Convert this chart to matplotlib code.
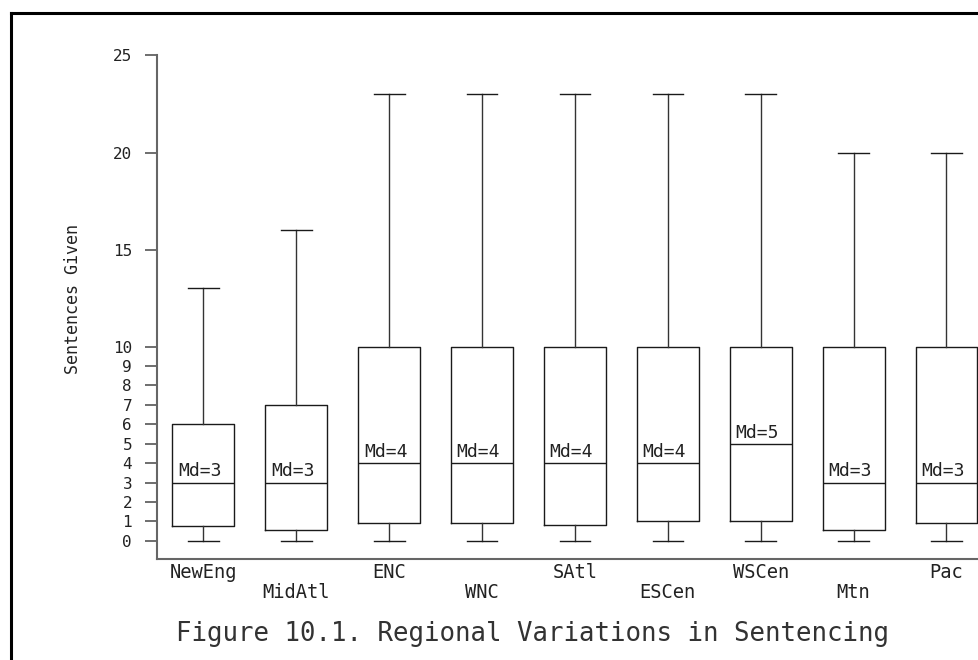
import matplotlib
matplotlib.use("Agg")
import matplotlib.pyplot as plt
from matplotlib.lines import Line2D

regions = ['NewEng', 'MidAtl', 'ENC', 'WNC', 'SAtl', 'ESCen', 'WSCen', 'Mtn', 'Pac']
whisker_low = [0, 0, 0, 0, 0, 0, 0, 0, 0]
q1 = [0.75, 0.55, 0.9, 0.9, 0.8, 1.0, 1.0, 0.55, 0.9]
medians = [3, 3, 4, 4, 4, 4, 5, 3, 3]
q3 = [6, 7, 10, 10, 10, 10, 10, 10, 10]
whisker_high = [13, 16, 23, 23, 23, 23, 23, 20, 20]
y_ticks = [0, 1, 2, 3, 4, 5, 6, 7, 8, 9, 10, 15, 20, 25]

FONT = 'DejaVu Sans Mono'
W, H = 979, 660
fig = plt.figure(figsize=(W / 100, H / 100), dpi=100)
fig.patch.set_facecolor('white')

# axes: left at x=157, right at figure edge, bottom at y=559, top at y=55.5
left, right, top, bottom = 157, 979, 55.5, 559
ax = fig.add_axes([left / W, 1 - bottom / H, (right - left) / W, (bottom - top) / H])

stats = []
for i, r in enumerate(regions):
    stats.append(dict(label=r, whislo=whisker_low[i], q1=q1[i], med=medians[i],
                      q3=q3[i], whishi=whisker_high[i], fliers=[]))
positions = list(range(1, len(regions) + 1))
ax.bxp(stats, positions=positions, widths=0.667, showfliers=False,
       boxprops=dict(color='#1a1a1a', linewidth=1.0),
       medianprops=dict(color='#1a1a1a', linewidth=1.0),
       whiskerprops=dict(color='#333333', linewidth=1.0),
       capprops=dict(color='#1a1a1a', linewidth=1.0),
       capwidths=0.33)

for i, p in enumerate(positions):
    ax.annotate(f'Md={medians[i]}', xy=(p - 0.333 + 0.06, medians[i]),
                xytext=(0, 1.5), textcoords='offset points',
                ha='left', va='bottom', fontsize=13, family=FONT, color='#222222')

ax.set_xlim(0.5, 9.35)
ax.set_ylim(-0.94, 25)
ax.set_yticks(y_ticks)
ax.set_yticklabels([str(t) for t in y_ticks], family=FONT, fontsize=11.5, color='#222222')
ax.set_xticks(positions)
ax.set_xticklabels([])
ax.tick_params(axis='x', length=0)
ax.tick_params(axis='y', length=9, width=1.2, color='#555555', pad=9)

for i, p in enumerate(positions):
    yoff = -4 if i % 2 == 0 else -24
    ax.annotate(regions[i], xy=(p, -0.94), xycoords='data', xytext=(0, yoff),
                textcoords='offset pixels', ha='center', va='top',
                fontsize=13.5, family=FONT, color='#222222', annotation_clip=False)

for s in ['top', 'right']:
    ax.spines[s].set_visible(False)
for s in ['left', 'bottom']:
    ax.spines[s].set_color('#666666')
    ax.spines[s].set_linewidth(1.5)
ax.spines['left'].set_bounds(-0.94, 25)

fig.text(73.5 / W, 1 - 299 / H, 'Sentences Given', rotation=90, ha='center', va='center',
         family=FONT, fontsize=12, color='#222222')

fig.text(532 / W, 1 - 634 / H, 'Figure 10.1. Regional Variations in Sentencing',
         ha='center', va='center', fontsize=18.5, family=FONT, color='#333333')

# page border (left and top)
fig.add_artist(Line2D([10.5 / W, 10.5 / W], [0, 1 - 13 / H], transform=fig.transFigure,
                      color='black', linewidth=2.2))
fig.add_artist(Line2D([10.5 / W, 1], [1 - 13 / H, 1 - 13 / H], transform=fig.transFigure,
                      color='black', linewidth=2.2))

fig.savefig('out.png', dpi=100, facecolor='white')
